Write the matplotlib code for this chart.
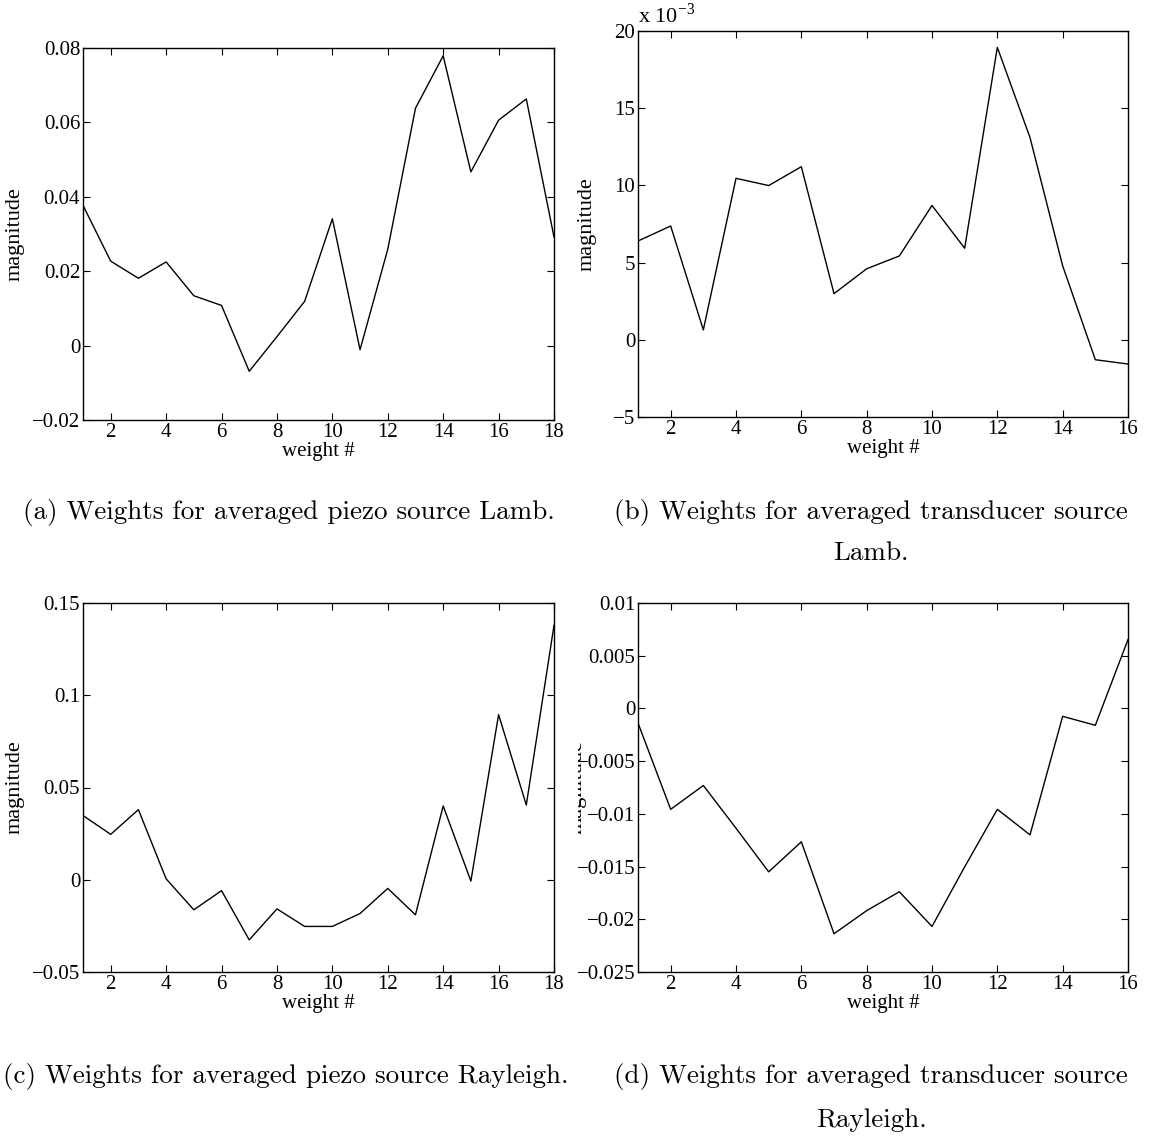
import numpy as np
import matplotlib
matplotlib.use('Agg')
from matplotlib import pyplot as plt
from matplotlib.ticker import FuncFormatter
from matplotlib.transforms import Bbox, TransformedBbox

plt.rcParams['font.family'] = 'Liberation Serif'
plt.rcParams['mathtext.fontset'] = 'stix'

# weights
w_piezo_lamb = [0.0377, 0.0227, 0.0181, 0.0225, 0.0134, 0.0108, -0.0069, 0.0024, 0.0119,
                0.0341, -0.0011, 0.0259, 0.0638, 0.0779, 0.0467, 0.0606, 0.0663, 0.0292]
w_trans_lamb = [6.40e-3, 7.37e-3, 0.64e-3, 10.46e-3, 9.99e-3, 11.21e-3, 2.99e-3, 4.60e-3,
                5.43e-3, 8.70e-3, 5.93e-3, 18.94e-3, 13.10e-3, 4.79e-3, -1.29e-3, -1.57e-3]
w_piezo_rayl = [0.0348, 0.0246, 0.0380, 0.0005, -0.0163, -0.0059, -0.0326, -0.0158, -0.0253,
                -0.0253, -0.0183, -0.0047, -0.0190, 0.0400, -0.0007, 0.0895, 0.0405, 0.1379]
w_trans_rayl = [-0.00138, -0.00957, -0.00731, -0.01136, -0.0155, -0.01265, -0.02137, -0.01918,
                -0.01739, -0.02068, -0.01503, -0.00957, -0.01199, -0.00075, -0.0016, 0.00653]

yticks_a = [-0.02, 0, 0.02, 0.04, 0.06, 0.08]
yticks_b = [-5e-3, 0, 5e-3, 10e-3, 15e-3, 20e-3]
yticks_c = [-0.05, 0, 0.05, 0.1, 0.15]
yticks_d = [-0.025, -0.02, -0.015, -0.01, -0.005, 0, 0.005, 0.01]

captions = ['(a) Weights for averaged piezo source Lamb.',
            '(b) Weights for averaged transducer source',
            '(c) Weights for averaged piezo source Rayleigh.',
            '(d) Weights for averaged transducer source']
caption_tails = ['Lamb.', 'Rayleigh.']

W, H = 1151., 1137.


def fmt(v, pos):
    s = '%g' % v
    return s.replace('-', '\u2212')


def fmt_e3(v, pos):
    s = '%g' % round(v * 1e3, 6)
    return s.replace('-', '\u2212')


def panel(fig, box, vals, yticks, formatter, label_x):
    left, top, right, bottom = box
    ax = fig.add_axes([left / W, 1 - bottom / H, (right - left) / W, (bottom - top) / H])
    x = np.arange(1, len(vals) + 1)
    ax.plot(x, vals, 'k-', lw=1.0)
    ax.set_xlim(1, len(vals))
    ax.set_ylim(yticks[0], yticks[-1])
    ax.set_xticks(np.arange(2, len(vals) + 1, 2))
    ax.set_yticks(yticks)
    ax.yaxis.set_major_formatter(FuncFormatter(formatter))
    ax.tick_params(direction='in', top=True, right=True, length=5, width=0.8,
                   labelsize=15, pad=2)
    for s in ax.spines.values():
        s.set_linewidth(1.0)
    ax.set_xlabel('weight #', fontsize=15, labelpad=0)
    ax.set_ylabel('magnitude', fontsize=16)
    ax.yaxis.set_label_coords(label_x, 0.5)
    return ax


fig = plt.figure(figsize=(W / 100, H / 100), dpi=100)

ax_a = panel(fig, (83, 48, 554, 420), w_piezo_lamb, yticks_a, fmt, -0.125)
ax_b = panel(fig, (638, 31, 1128, 417), w_trans_lamb, yticks_b, fmt_e3, -0.085)
ax_c = panel(fig, (83, 603, 554, 972), w_piezo_rayl, yticks_c, fmt, -0.125)
ax_d = panel(fig, (638, 603, 1128, 972), w_trans_rayl, yticks_d, fmt, -0.104)

# exponent label above panel b
ax_b.text(0.0, 1.008, 'x 10$^{\\mathregular{\u22123}}$', transform=ax_b.transAxes,
          ha='left', va='bottom', fontsize=16)

# ylabel of panel d is cut off by the subfigure edge
lab = ax_d.yaxis.label
lab.set_clip_on(True)
lab.set_clip_box(TransformedBbox(Bbox([[578 / W, 0], [1, 1]]), fig.transFigure))

cap_font = dict(family='cmr10', fontsize=19.5, ha='center', va='center')
fig.text(289 / W, 1 - 512 / H, captions[0], **cap_font)
fig.text(871 / W, 1 - 512 / H, captions[1], **cap_font)
fig.text(871 / W, 1 - 553 / H, caption_tails[0], **cap_font)
fig.text(286 / W, 1 - 1077 / H, captions[2], **cap_font)
fig.text(871 / W, 1 - 1077 / H, captions[3], **cap_font)
fig.text(871 / W, 1 - 1120 / H, caption_tails[1], **cap_font)

fig.savefig('out.png', dpi=100)
